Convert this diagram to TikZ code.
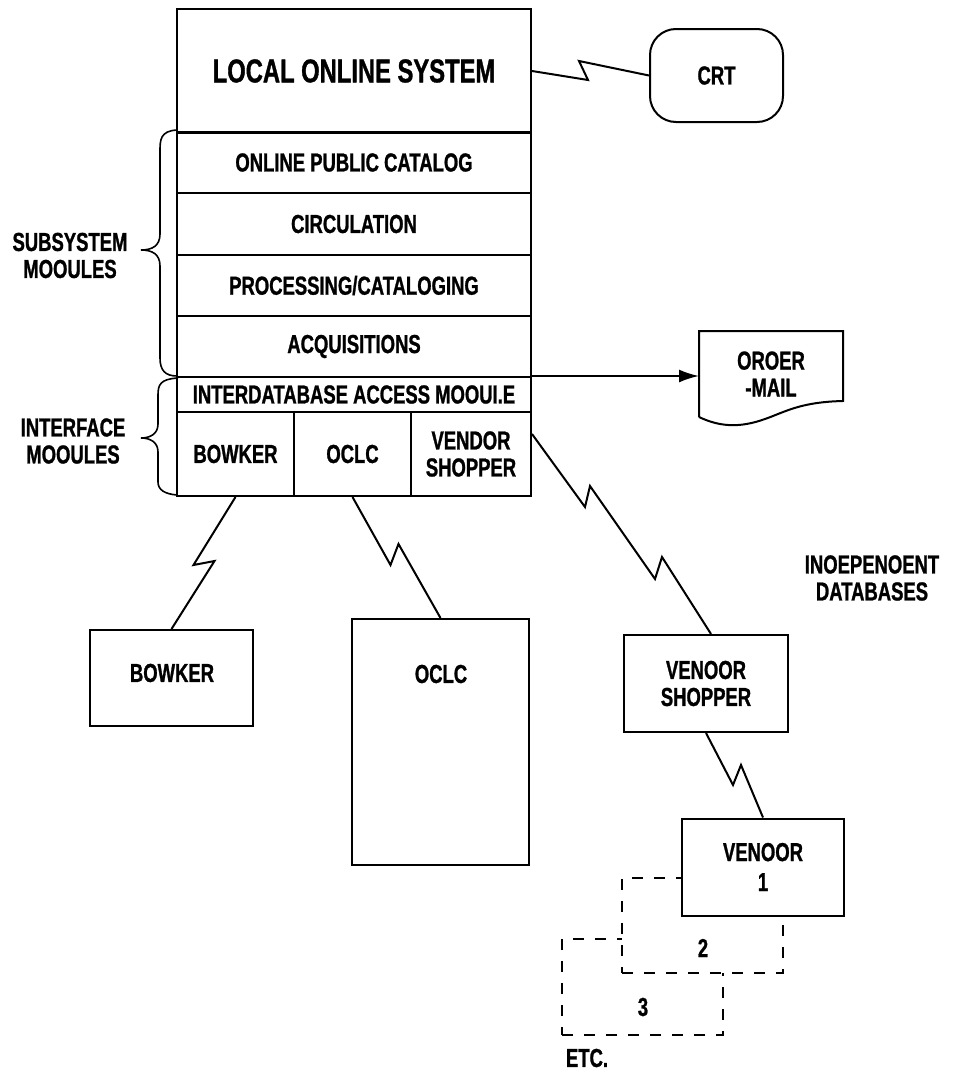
\documentclass[tikz,border=0pt]{standalone}
\usepackage{fontspec}
\newfontfamily\cf{Liberation Sans}[FakeStretch=0.71,FakeBold=1]
\newfontfamily\cfl{Liberation Sans}[FakeStretch=0.72,FakeBold=1]
\usetikzlibrary{arrows.meta,calc}
\begin{document}
\begin{tikzpicture}[x=1pt,y=-1pt,line width=2pt,
  every node/.style={font=\cf\bfseries\fontsize{26}{27}\selectfont,inner sep=0pt,align=center},
  row/.style={draw,minimum width=354pt},
  cellbox/.style={draw,minimum height=84pt},
  box/.style={draw,fill=white},
  dbox/.style={draw,fill=white,dash pattern=on 11pt off 11pt},
  link/.style={line width=2pt,line join=miter},
  brace/.style={line width=1.6pt}]
\useasboundingbox (0,0) rectangle (956,1076);
% main system stack
\node[row,minimum height=124pt,font=\cfl\bfseries\fontsize{33}{36}\selectfont] (local) at (354,71) {LOCAL ONLINE SYSTEM};
\node[row,minimum height=61pt] (opc) at (354,162.5) {ONLINE PUBLIC CATALOG};
\node[row,minimum height=62pt] (circ) at (354,224) {CIRCULATION};
\node[row,minimum height=61pt] (proc) at (354,285.5) {PROCESSING/CATALOGING};
\node[row,minimum height=61pt] (acq) at (354,346.5) {ACQUISITIONS};
\node[row,minimum height=35pt] (idb) at (354,394.5) {INTERDATABASE ACCESS MOOUI.E};
\node[cellbox,minimum width=117pt] (bk) at (235.5,454) {BOWKER};
\node[cellbox,minimum width=117pt] (oc) at (352.5,454) {OCLC};
\node[cellbox,minimum width=120pt] (vsh) at (471,454) {VENDOR\\SHOPPER};
% CRT
\node[draw,rounded corners=26pt,minimum width=133pt,minimum height=93pt] (crt) at (716.5,75.5) {CRT};
\draw[link] (local.east) -- ++(56,9) -- ++(-9,-19) -- (crt.west);
% order mail
\node[minimum width=142pt,minimum height=84pt] (order) at (771,374) {OROER\\-MAIL};
\draw (order.south west) -- (order.north west) -- (order.north east) -- ++(0,70)
  .. controls (800,402) and (785,412) .. (765,419)
  .. controls (740,428) and (720,427) .. (order.south west);
\draw[-{Latex[length=20pt,width=13pt]}] (idb.north east) -- (idb.north east -| order.west);
% labels
\node (indep) at (872,578) {INOEPENOENT\\DATABASES};
\node (sub) at (70,255.5) {SUBSYSTEM\\MOOULES};
\node (intf) at (73,441) {INTERFACE\\MOOULES};
% braces
\draw[brace] (177,130) .. controls (160,131) and (160,140) .. (160,152) -- (160,234)
  .. controls (160,246) and (152,250) .. (141,250)
  .. controls (152,250) and (160,254) .. (160,266) -- (160,358)
  .. controls (160,370) and (165,376) .. (177,376);
\draw[brace] (178,378) .. controls (160,379) and (158,385) .. (158,395) -- (158,424)
  .. controls (158,434) and (150,438) .. (141,438)
  .. controls (150,438) and (158,442) .. (158,452) -- (158,482)
  .. controls (158,490) and (165,494) .. (177,495);
% databases
\node[box,minimum width=163pt,minimum height=96pt] (bowk) at (171.5,678) {};
\node (bowklbl) at (172,673) {BOWKER};
\node[draw,minimum width=177pt,minimum height=246pt] (oclc) at (440.5,742) {};
\node (oclclbl) at (441,674) {OCLC};
\node[box,minimum width=164pt,minimum height=97pt] (vs) at (706,683.5) {VENOOR\\SHOPPER};
\node[dbox,minimum width=161pt,minimum height=96pt] (v3) at (642.5,987) {};
\node (l3) at (643,1007) {3};
\node[dbox,minimum width=161pt,minimum height=95pt] (v2) at (702.5,925.5) {};
\node (l2) at (703,948) {2};
\node[box,minimum width=162pt,minimum height=97pt,font=\cf\bfseries\fontsize{26}{30}\selectfont] (v1) at (763,867) {VENOOR\\1};
\node[anchor=west] (etc) at (565,1058) {ETC.};
% connectors
\draw[link] (bk.south) -- ++(-42,68) -- ++(21,-4) -- (bowk.north);
\draw[link] (oc.south) -- ++(38,68) -- ++(8,-21) -- (oclc.north);
\draw[link] ($(vsh.north east)+(0,23)$) -- ++(53,73) -- ++(5,-21) -- ++(65,93) -- ++(7,-22) -- ($(vs.north west)+(88,0)$);
\draw[link] (vs.south) -- ++(27,52) -- ++(8,-20) -- (v1.north);
\end{tikzpicture}
\end{document}
